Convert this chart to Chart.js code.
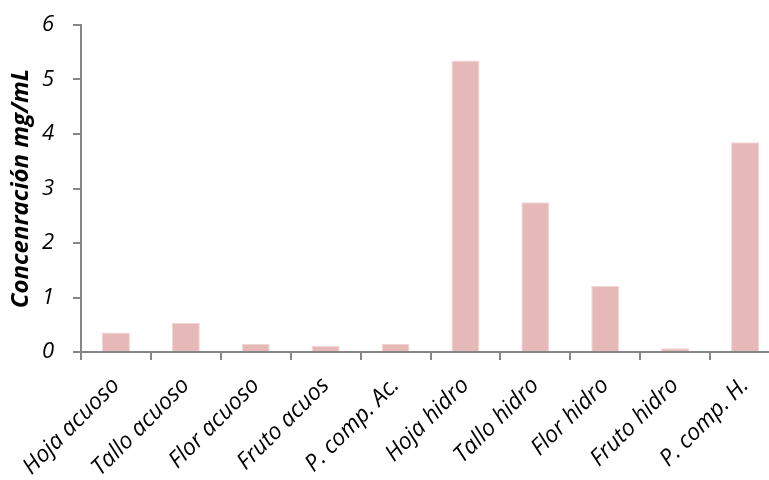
<!DOCTYPE html>
<html>
<head>
<meta charset="utf-8">
<script src="https://cdn.jsdelivr.net/npm/chart.js@4"></script>
<style>
    html, body { margin: 0; padding: 0; background: #fff; overflow: hidden; }
    #wrap { width: 782px; height: 480px; }
</style>
</head>
<body>
<div id="wrap"><canvas id="chart"></canvas></div>
<script>
// Categories and values
const categories = [
    'Hoja acuoso', 'Tallo acuoso', 'Flor acuoso', 'Fruto acuos', 'P. comp. Ac.',
    'Hoja hidro', 'Tallo hidro', 'Flor hidro', 'Fruto hidro', 'P. comp. H.'
];
const concentration = [0.36, 0.53, 0.15, 0.11, 0.15, 5.35, 2.75, 1.21, 0.07, 3.85];
const yTicks = [0, 1, 2, 3, 4, 5, 6];

const AXIS_GRAY = '#868686';
const BAR_PINK = '#E6B9B8';
const FONT = '"Open Sans", Calibri, sans-serif';

const chartData = {
    labels: categories,
    datasets: [{
        label: 'Concentración',
        data: concentration,
        backgroundColor: BAR_PINK,
        borderColor: '#F2D6D5',
        borderWidth: 1,
        barPercentage: 0.8,
        categoryPercentage: 0.5
    }]
};

const options = {
    responsive: true,
    maintainAspectRatio: false,
    animation: false,
    layout: { padding: { top: 25, right: 2, left: 0, bottom: 0 } },
    plugins: {
        legend: { display: false },
        tooltip: { enabled: false }
    },
    scales: {
        x: {
            grid: {
                display: true,
                drawOnChartArea: false,
                offset: true,
                tickLength: 8,
                color: AXIS_GRAY,
                lineWidth: 2
            },
            border: { display: true, color: AXIS_GRAY, width: 2 },
            ticks: {
                color: '#000',
                font: { family: FONT, size: 23, style: 'italic' },
                minRotation: 45,
                maxRotation: 45,
                padding: 12
            },
            afterFit: (scale) => { scale.height = 128; }
        },
        y: {
            min: 0,
            max: 6,
            afterBuildTicks: (scale) => {
                scale.ticks = yTicks.map(v => ({ value: v }));
            },
            grid: {
                display: true,
                drawOnChartArea: false,
                tickLength: 8,
                color: AXIS_GRAY,
                lineWidth: 2
            },
            border: { display: true, color: AXIS_GRAY, width: 2 },
            ticks: {
                color: '#000',
                font: { family: FONT, size: 22, style: 'italic' },
                padding: 19
            },
            title: {
                display: true,
                text: 'Concenración mg/mL',
                color: '#000',
                font: { family: FONT, size: 24, style: 'italic', weight: 'bold' },
                padding: { top: 7, bottom: 0 }
            },
            afterFit: (scale) => {
                scale.width = 81;
                scale.paddingTop = 0;
                scale.paddingBottom = 0;
            }
        }
    }
};

new Chart(document.getElementById('chart'), {
    type: 'bar',
    data: chartData,
    options: options
});
</script>
</body>
</html>
